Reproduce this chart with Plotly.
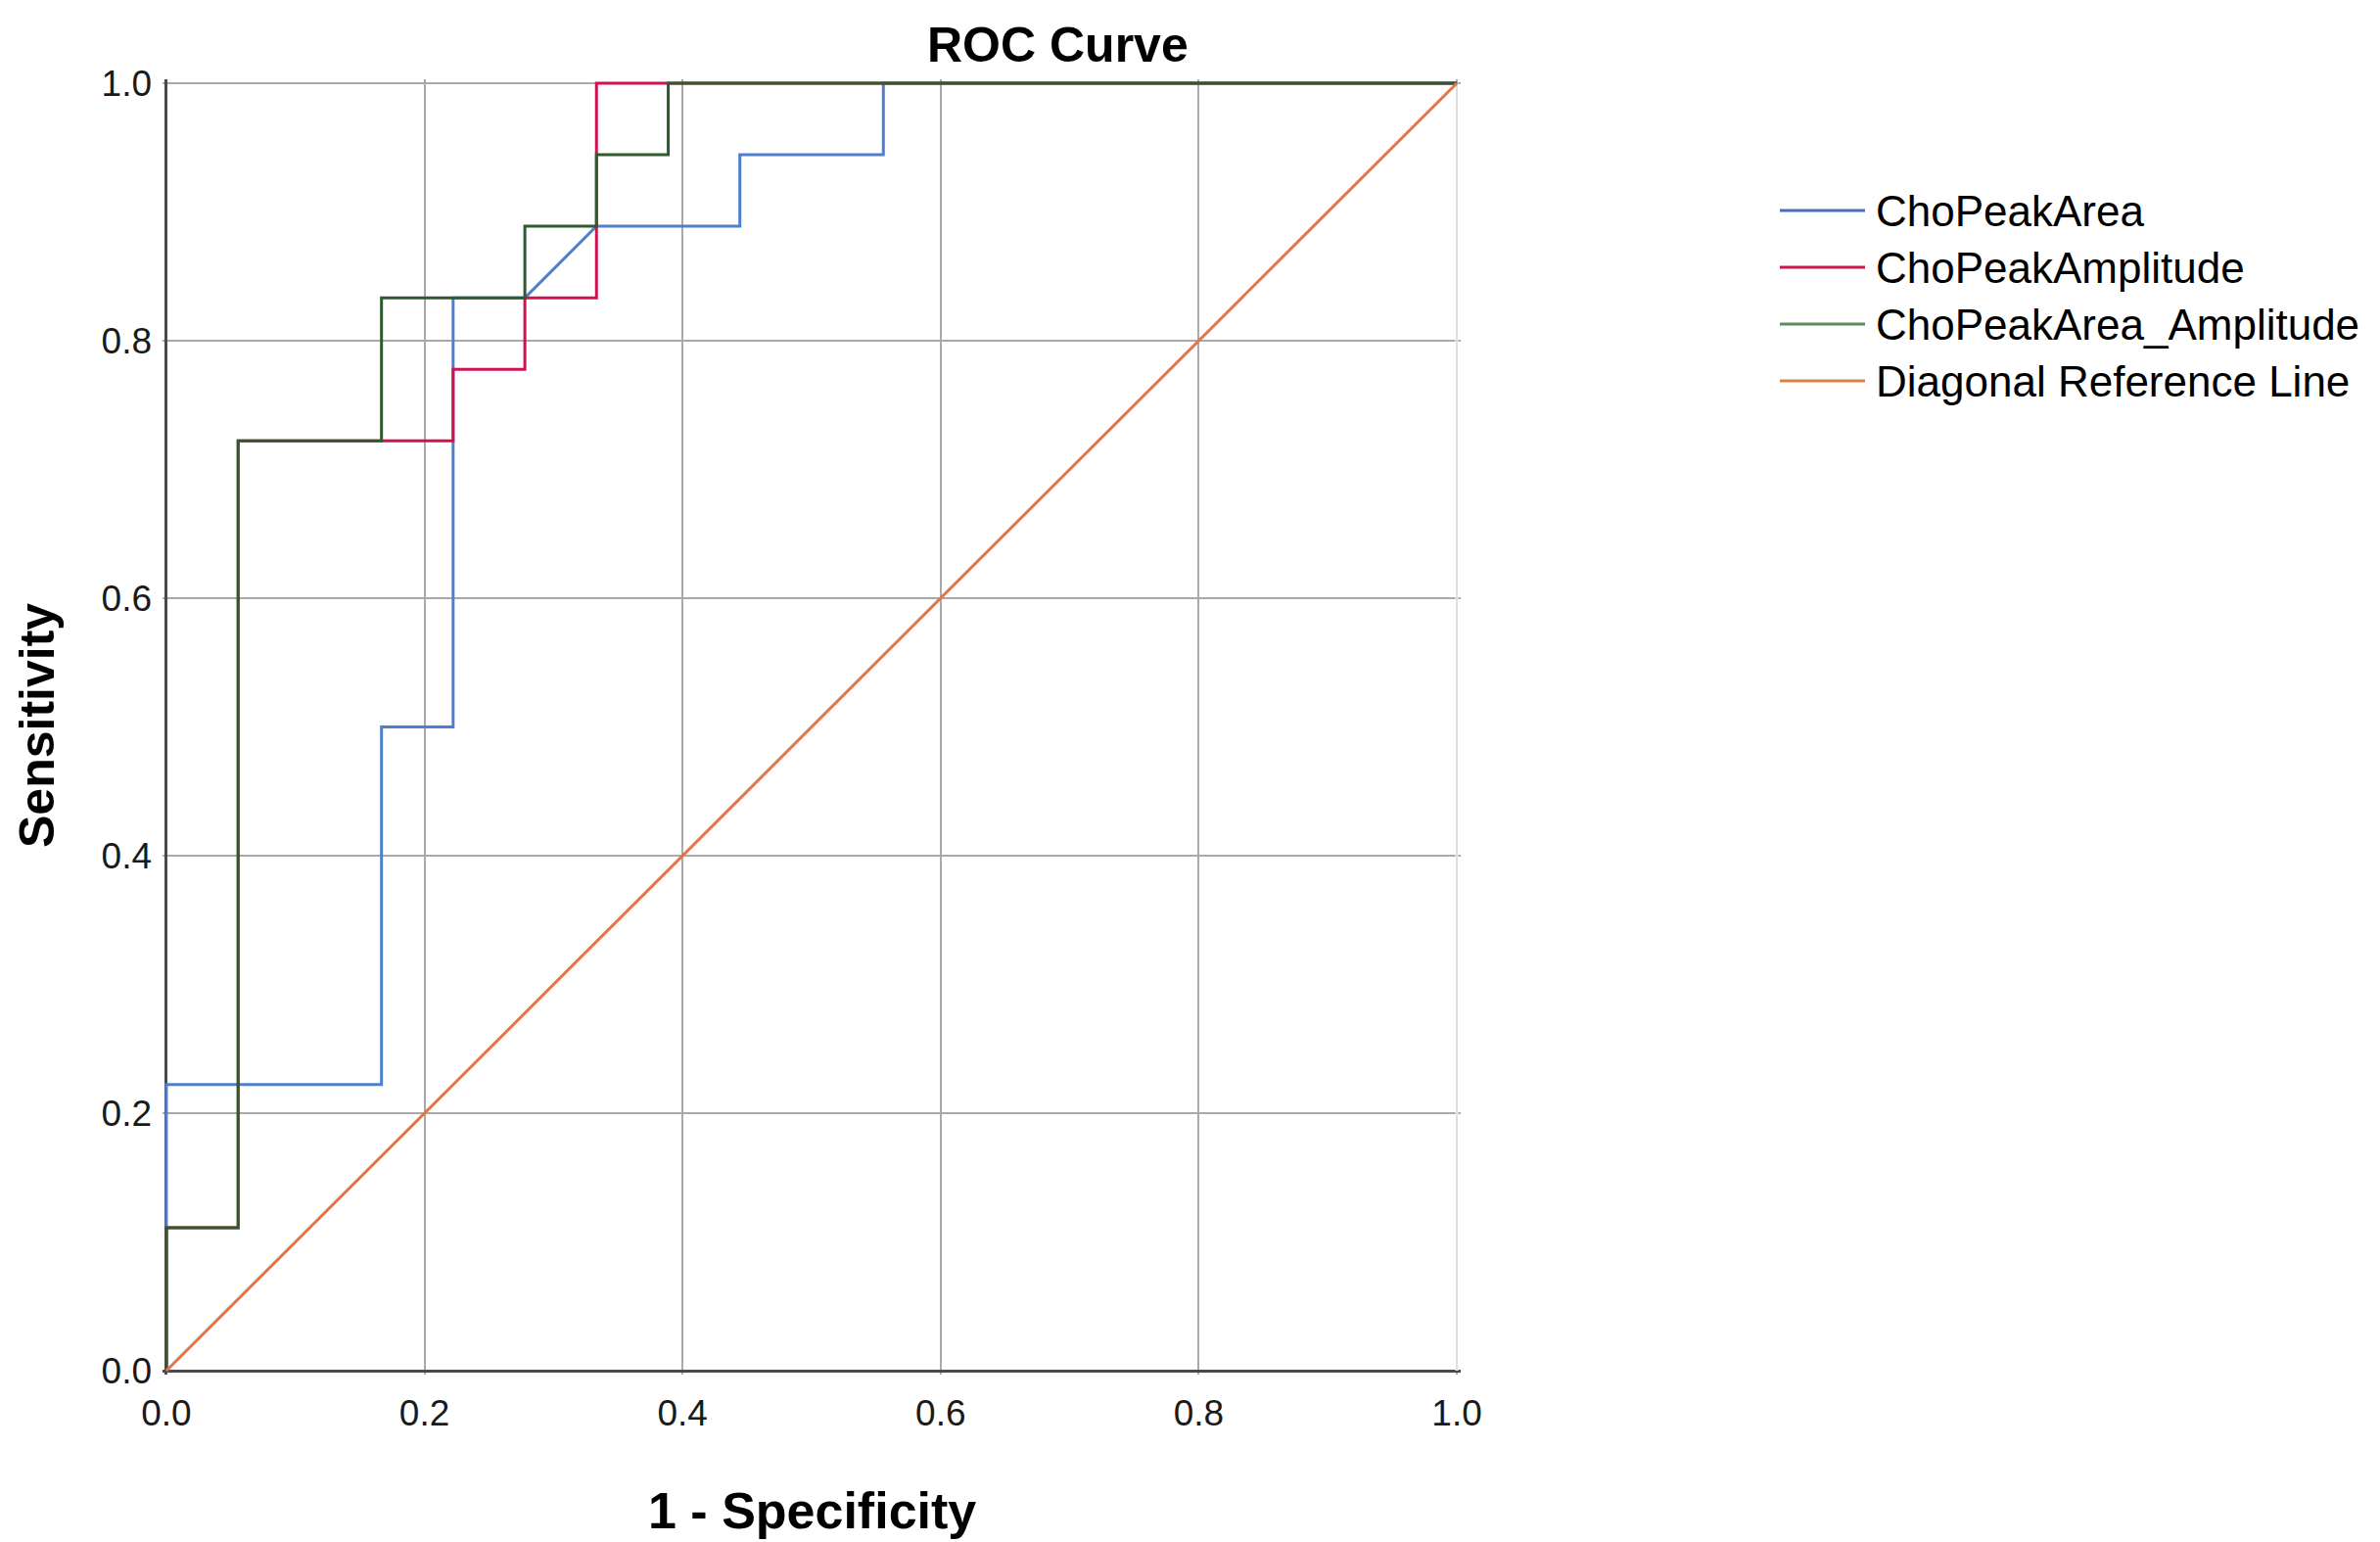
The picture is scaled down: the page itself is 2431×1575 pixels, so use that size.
import plotly.graph_objects as go

# ROC points (1 - specificity, sensitivity)
area_x = [0, 0, 0.1667, 0.1667, 0.2222, 0.2222, 0.2778, 0.3333, 0.4444, 0.4444, 0.5556, 0.5556, 1.0]
area_y = [0, 0.2222, 0.2222, 0.5, 0.5, 0.8333, 0.8333, 0.8889, 0.8889, 0.9444, 0.9444, 1.0, 1.0]

amp_x = [0, 0, 0.0556, 0.0556, 0.2222, 0.2222, 0.2778, 0.2778, 0.3333, 0.3333, 1.0]
amp_y = [0, 0.1111, 0.1111, 0.7222, 0.7222, 0.7778, 0.7778, 0.8333, 0.8333, 1.0, 1.0]

both_x = [0, 0, 0.0556, 0.0556, 0.1667, 0.1667, 0.2778, 0.2778, 0.3333, 0.3333, 0.3889, 0.3889, 1.0]
both_y = [0, 0.1111, 0.1111, 0.7222, 0.7222, 0.8333, 0.8333, 0.8889, 0.8889, 0.9444, 0.9444, 1.0, 1.0]

diag_x = [0, 1]
diag_y = [0, 1]

tick_vals = [0, 0.2, 0.4, 0.6, 0.8, 1.0]
tick_text = ["0.0", "0.2", "0.4", "0.6", "0.8", "1.0"]

names = ["ChoPeakArea", "ChoPeakAmplitude", "ChoPeakArea_Amplitude", "Diagonal Reference Line"]
colors = ["#4f7fd0", "#d0134f", "#2f5a2f", "#e4744a"]
legend_colors = ["#4a6cc0", "#c8164a", "#5f8a5f", "#e08040"]

# the page body has an 8px margin, so everything is laid out 8px in
OFF = 8
W, H = 2431 - OFF, 1575 - OFF
L, T = 166 - OFF, 81 - OFF
PW, PH = 1326, 1323
FONT = "Liberation Sans, Arial, sans-serif"


def px_x(px):
    return (px - OFF - L) / PW


def px_y(py):
    return 1 - (py - OFF - T) / PH


fig = go.Figure()
series = [(area_x, area_y), (amp_x, amp_y), (both_x, both_y), (diag_x, diag_y)]
for (xs, ys), name, col in zip(series, names, colors):
    fig.add_trace(go.Scatter(x=xs, y=ys, mode="lines", name=name,
                             line=dict(color=col, width=3), showlegend=False))

axis_common = dict(
    tickvals=tick_vals, ticktext=tick_text, range=[-0.003, 1.003],
    showgrid=True, gridcolor="#a9a9a9", gridwidth=2,
    zeroline=True, zerolinecolor="#4a4a4a", zerolinewidth=3,
    showline=False, ticks="",
    tickfont=dict(family=FONT, size=37, color="#1a1a1a"),
)

fig.update_layout(
    width=W, height=H,
    margin=dict(l=L, r=W - L - PW, t=T, b=H - T - PH),
    paper_bgcolor="white", plot_bgcolor="white",
    xaxis=dict(**axis_common, ticklabelstandoff=14),
    yaxis=dict(**axis_common, ticklabelstandoff=10),
    showlegend=False,
)

# faint grid line at x = 1.0
fig.add_shape(type="line", xref="x", yref="y", x0=1, x1=1, y0=0, y1=1,
              layer="between", line=dict(color="white", width=3))
fig.add_shape(type="line", xref="x", yref="y", x0=1, x1=1, y0=0, y1=1,
              layer="between", line=dict(color="#dddddd", width=2))

# titles
fig.add_annotation(text="<b>ROC Curve</b>", xref="paper", yref="paper",
                   x=px_x(1080), y=px_y(46), showarrow=False,
                   xanchor="center", yanchor="middle",
                   font=dict(family=FONT, size=50, color="black"))
fig.add_annotation(text="<b>1 - Specificity</b>", xref="paper", yref="paper",
                   x=px_x(829), y=px_y(1543), showarrow=False,
                   xanchor="center", yanchor="middle",
                   font=dict(family=FONT, size=52, color="black"))
fig.add_annotation(text="<b>Sensitivity</b>", xref="paper", yref="paper",
                   x=px_x(38), y=px_y(741), showarrow=False, textangle=-90,
                   xanchor="center", yanchor="middle",
                   font=dict(family=FONT, size=50, color="black"))

# legend drawn by hand so the line samples are as long as the original
for i, (name, col) in enumerate(zip(names, legend_colors)):
    yy = px_y(215 + 58 * i)
    fig.add_shape(type="line", xref="paper", yref="paper",
                  x0=px_x(1818), x1=px_x(1905), y0=yy, y1=yy,
                  line=dict(color=col, width=3))
    fig.add_annotation(text=name, xref="paper", yref="paper",
                       x=px_x(1914), y=yy, xanchor="left", yanchor="middle",
                       showarrow=False,
                       font=dict(family=FONT, size=44, color="black"))

fig.write_html("out.html")
